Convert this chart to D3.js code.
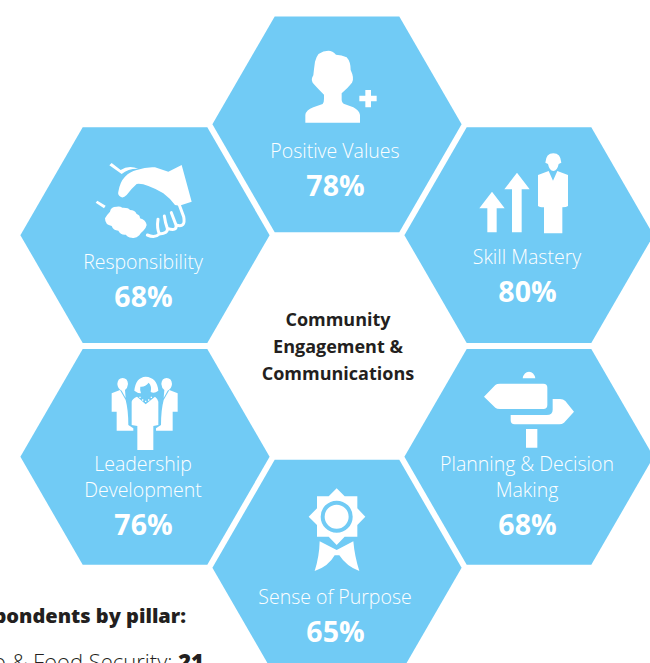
<!DOCTYPE html>
<html>
<head>
<meta charset="utf-8">
<script src="https://cdn.jsdelivr.net/npm/d3@7"></script>
<style>
  html, body { margin: 0; padding: 0; background: #fff; overflow: hidden; }
  svg { display: block; }
  text { font-family: "Open Sans", sans-serif; }
</style>
</head>
<body>
<svg id="chart" width="650" height="663"></svg>
<script>
const pillars = ["Positive Values", "Skill Mastery", "Planning & Decision|Making", "Sense of Purpose", "Leadership|Development", "Responsibility"]
const scores = [78, 80, 68, 65, 76, 68]
const centerLines = ["Community", "Engagement &", "Communications"]
const footerTitle = "Number of respondents by pillar:"
const footerName = "Agro & Food Security: "
const footerCount = "21"

const hexBlue = "#71cbf5"
const cx = 337, cy = 346
const ringRadius = 221.7, hexRadius = 124.6

const svg = d3.select("#chart")

// hexagons sit evenly round the ring, clockwise from the top
const angle = d3.scaleLinear().domain([0, pillars.length]).range([0, 2 * Math.PI])
const hexPoints = d3.range(6).map(i => [Math.PI / 6 + i * Math.PI / 3, hexRadius])
const hexPath = d3.lineRadial().curve(d3.curveLinearClosed)(hexPoints)

// icons are traced in the pixel space of 3x crops, hence the scale
const icons = [
  { at: [200, 0], d: "M316 368 L316 345 Q318 330 340 322 L368 312 Q372 308 372 296 L372 284 Q350 262 338 248 Q332 238 340 226 Q342 205 345 185 Q352 152 385 152 Q398 152 408 164 Q425 164 440 172 Q452 185 452 210 Q464 235 456 248 Q445 262 425 280 L425 300 Q426 310 435 313 L460 322 Q478 332 480 345 L480 368 Z M496 270 L513 270 L513 287 L530 287 L530 304 L513 304 L513 322 L496 322 L496 304 L478 304 L478 287 L496 287 Z" },
  { at: [90, 160],
    d: "M275 15 L305 125 L268 137 L255 135 Q240 115 220 100 Q195 85 175 78 Q155 70 140 72 Q125 85 110 105 Q100 115 93 111 Q82 105 85 95 Q90 65 105 50 Q120 35 140 30 Q170 20 195 22 L235 35 Z M58 16 L65 9 L92 30 Q115 15 145 26 Q115 25 95 42 Z M17 128 L22 122 L47 137 L42 145 Z M45 175 Q50 165 60 155 Q62 140 80 140 Q90 138 97 143 Q115 142 120 150 Q135 150 140 162 Q150 165 150 175 Q168 180 170 195 Q168 205 160 212 Q152 218 148 226 Q138 236 125 233 Q112 232 108 224 Q92 226 85 212 Q70 212 65 198 Q45 195 45 175 Z",
    s: "M172 225 Q195 235 208 222 Q200 205 204 178 M208 222 Q235 220 232 205 Q226 190 223 168 M232 205 Q262 215 258 195 L244 158 M258 195 Q288 205 281 170 L268 135" },
  { at: [400, 120], d: "M238 265 L276 215 L314 265 L290 265 L290 337 L262 337 L262 265 Z M313 208 L351 158 L389 208 L365 208 L365 337 L336 337 L336 208 Z M436 128 Q438 100 460 100 Q482 100 484 128 L476 132 Q472 152 460 153 Q448 152 444 132 Z M414 165 L446 153 L459 182 L472 153 L504 165 L504 258 Q500 262 487 262 L487 340 L432 340 L432 262 Q418 262 414 258 Z" },
  { at: [400, 345], d: "M368 100 Q372 80 387 80 Q402 80 406 100 Z M252 155 L286 120 Q290 116 300 116 L430 116 Q442 116 442 128 L442 180 Q442 192 430 192 L300 192 Q290 192 286 188 Z M458 162 L480 162 Q490 162 496 168 L522 200 L492 233 Q486 238 478 238 L344 238 Q332 238 332 226 L332 210 L440 210 Q458 210 458 194 Z M378 252 L412 252 L412 308 L378 308 Z" },
  { at: [0, 460], d: "M1010 85 L1034 109 L1072 109 L1072 145 L1096 170 L1072 195 L1072 230 L1034 230 L1010 255 L986 230 L951 230 L951 195 L926 170 L951 145 L951 109 L986 109 Z M1010 122 A48 48 0 1 0 1010.1 218 A48 48 0 1 0 1010 122 Z M1010 134 A36 36 0 1 1 1009.9 206 A36 36 0 1 1 1010 134 Z M959 244 L1010 270 L1060 244 Q1064 290 1078 333 Q1040 320 1018 286 L1004 286 Q985 320 944 333 Q958 290 959 244 Z" },
  { at: [105, 370],
    d: "M37 42 Q38 24 53 24 Q68 24 69 42 Q68 54 60 60 L62 84 L50 62 Q38 56 37 42 Z M20 70 L45 60 L62 90 Q70 120 70 165 L85 175 L85 182 L35 182 L35 125 L20 125 Z M201 42 Q200 24 185 24 Q170 24 169 42 Q170 54 178 60 L176 84 L188 62 Q200 56 201 42 Z M218 70 L193 60 L176 90 Q168 120 168 165 L153 175 L153 182 L203 182 L203 125 L218 125 Z M88 62 Q92 22 122 20 Q156 22 160 62 Q148 72 137 66 Q141 48 131 38 Q120 52 106 50 Q104 60 108 70 Q98 70 88 62 Z M80 95 Q82 86 96 80 L122 103 L150 80 Q160 88 160 95 L160 165 L145 168 L145 240 L97 240 L97 168 L80 165 Z M103 80 h4 v4 h-4 Z M111 88 h4 v4 h-4 Z M120 92 h4 v4 h-4 Z M129 88 h4 v4 h-4 Z M137 80 h4 v4 h-4 Z" }
]

const g = svg.selectAll("g.pillar")
  .data(pillars)
  .join("g")
  .attr("class", "pillar")

g.append("path")
  .attr("d", hexPath)
  .attr("fill", hexBlue)
  .attr("transform", (d, i) => {
    const a = angle(i)
    return `translate(${cx + ringRadius * Math.sin(a)},${cy - ringRadius * Math.cos(a)})`
  })

const iconG = svg.selectAll("g.icon")
  .data(icons)
  .join("g")
  .attr("class", "icon")
  .attr("transform", d => `translate(${d.at[0]},${d.at[1]}) scale(${1 / 3})`)

iconG.append("path")
  .attr("fill", "#fff")
  .attr("fill-rule", "evenodd")
  .attr("d", d => d.d)

// the handshake fingers are thin lines rather than fills
iconG.filter(d => d.s).append("path")
  .attr("fill", "none")
  .attr("stroke", "#fff")
  .attr("stroke-width", 9)
  .attr("stroke-linecap", "round")
  .attr("d", d => d.s)

// label text, offset from each hexagon's centre
g.each(function(d, i) {
  const a = angle(i)
  const hx = cx + ringRadius * Math.sin(a) - 2
  const hy = cy - ringRadius * Math.cos(a)
  const lines = d.split("|")
  const valueY = [71, 66.5, 77.5, 73.5, 77.5, 71][i]
  const sel = d3.select(this)
  lines.forEach((line, k) => {
    sel.append("text")
      .attr("x", hx)
      .attr("y", hy + valueY - 37.5 - (lines.length - 1 - k) * 26)
      .attr("text-anchor", "middle")
      .attr("fill", "#fff")
      .attr("font-size", 19.5)
      .attr("font-weight", 300)
      .text(line)
  })
  sel.append("text")
    .attr("x", hx + 0.5)
    .attr("y", hy + valueY + 0.5)
    .attr("text-anchor", "middle")
    .attr("fill", "#fff")
    .attr("font-size", 28.5)
    .attr("font-weight", 700)
    .text(scores[i] + "%")
})

svg.selectAll("text.center")
  .data(centerLines)
  .join("text")
  .attr("class", "center")
  .attr("x", 338)
  .attr("y", (d, i) => 326 + i * 27)
  .attr("text-anchor", "middle")
  .attr("fill", "#231f20")
  .attr("font-size", 18)
  .attr("font-weight", 700)
  .text(d => d)

svg.append("text")
  .attr("x", 186).attr("y", 623)
  .attr("text-anchor", "end")
  .attr("fill", "#231f20")
  .attr("font-size", 20)
  .attr("font-weight", 800)
  .text(footerTitle)

const foot = svg.append("text")
  .attr("x", 204).attr("y", 670)
  .attr("text-anchor", "end")
  .attr("fill", "#231f20")
  .attr("font-size", 22)
  .attr("font-weight", 300)
foot.append("tspan").text(footerName)
foot.append("tspan").attr("font-weight", 800).text(footerCount)
</script>
</body>
</html>
